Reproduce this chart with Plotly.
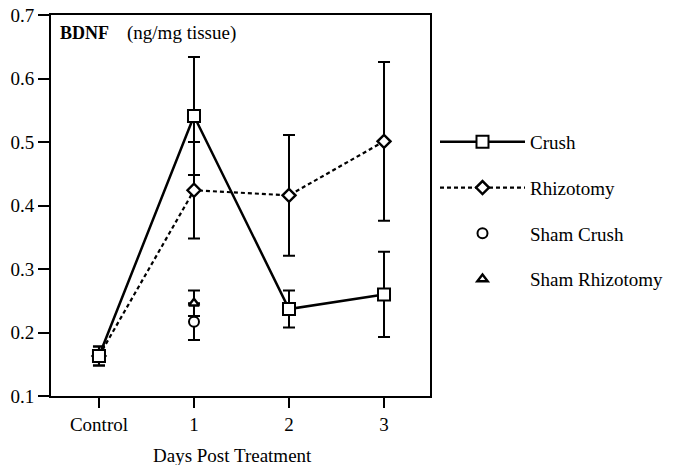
import plotly.graph_objects as go

categories = ["Control", "1", "2", "3"]

crush_x = ["Control", "1", "2", "3"]
crush_y = [0.163, 0.541, 0.237, 0.260]
crush_err = [0.015, 0.093, 0.029, 0.067]

rhiz_x = ["Control", "1", "2", "3"]
rhiz_y = [0.163, 0.424, 0.416, 0.501]
rhiz_err = [0.015, 0.076, 0.095, 0.125]

sham_crush_x = ["1"]
sham_crush_y = [0.217]
sham_crush_err = [0.029]

sham_rhiz_x = ["1"]
sham_rhiz_y = [0.246]
sham_rhiz_err = [0.020]

y_ticks = [0.1, 0.2, 0.3, 0.4, 0.5, 0.6, 0.7]

FONT = "Liberation Serif, Times New Roman, serif"
FS = 19

fig = go.Figure()

fig.add_trace(go.Scatter(
    x=rhiz_x, y=rhiz_y, name="Rhizotomy", legendrank=2, legendgroup="b",
    mode="lines+markers",
    line=dict(color="black", width=2.2, dash="4px,3px"),
    marker=dict(symbol="diamond", size=10, color="white", line=dict(color="black", width=2.4)),
    error_y=dict(type="data", array=rhiz_err, color="black", thickness=2, width=6),
))
fig.add_trace(go.Scatter(
    x=crush_x, y=crush_y, name="Crush", legendrank=1, legendgroup="a",
    mode="lines+markers",
    line=dict(color="black", width=2.5),
    marker=dict(symbol="square", size=12, color="white", line=dict(color="black", width=2)),
    error_y=dict(type="data", array=crush_err, color="black", thickness=2, width=6),
))
fig.add_trace(go.Scatter(
    x=sham_crush_x, y=sham_crush_y, name="Sham Crush", legendrank=3, legendgroup="c",
    mode="markers",
    marker=dict(symbol="circle", size=10, color="white", line=dict(color="black", width=2)),
    error_y=dict(type="data", array=sham_crush_err, color="black", thickness=2, width=6),
))
fig.add_trace(go.Scatter(
    x=sham_rhiz_x, y=sham_rhiz_y, name="Sham Rhizotomy", legendrank=4, legendgroup="d",
    mode="markers",
    marker=dict(symbol="triangle-up", size=9, color="white", line=dict(color="black", width=2.4)),
    error_y=dict(type="data", array=sham_rhiz_err, color="black", thickness=2, width=6),
))

fig.update_layout(
    width=678, height=465,
    margin=dict(l=51, r=248, t=15, b=69, autoexpand=False),
    paper_bgcolor="white", plot_bgcolor="white",
    font=dict(family=FONT, size=FS, color="black"),
    showlegend=True,
    legend=dict(
        xref="container", yref="container",
        x=435 / 678, y=(465 - 123) / 465, xanchor="left", yanchor="top",
        tracegroupgap=18, itemwidth=85,
        font=dict(family=FONT, size=FS, color="black"),
        bgcolor="rgba(0,0,0,0)",
    ),
    xaxis=dict(
        type="category", categoryorder="array", categoryarray=categories,
        range=[-0.505, 3.484],
        showline=True, linecolor="black", linewidth=2, mirror=True,
        ticks="outside", ticklen=10, tickwidth=2, tickcolor="black",
        showgrid=False, zeroline=False,
        tickfont=dict(family=FONT, size=FS),
    ),
    yaxis=dict(
        range=[0.1, 0.7], tickvals=y_ticks, ticktext=[f"{v:.1f}" for v in y_ticks],
        showline=True, linecolor="black", linewidth=2, mirror=True,
        ticks="outside", ticklen=11, tickwidth=2, tickcolor="black",
        showgrid=False, zeroline=False,
        tickfont=dict(family=FONT, size=FS),
    ),
    annotations=[
        dict(text="<b>BDNF</b>", xref="paper", yref="paper",
             x=(58 - 51) / 379, y=(396 - 33) / 381, xanchor="left", yanchor="middle",
             showarrow=False, font=dict(family=FONT, size=18)),
        dict(text="(ng/mg tissue)", xref="paper", yref="paper",
             x=(125 - 51) / 379, y=(396 - 33) / 381, xanchor="left", yanchor="middle",
             showarrow=False, font=dict(family=FONT, size=FS)),
        dict(text="Days Post Treatment", xref="paper", yref="paper",
             x=(232 - 51) / 379, y=(396 - 455) / 381, xanchor="center", yanchor="middle",
             showarrow=False, font=dict(family=FONT, size=FS)),
    ],
)

fig.write_html(
    "out.html",
    config={"displayModeBar": False},
    post_script="document.body.style.margin='0';document.body.style.padding='0';",
)
